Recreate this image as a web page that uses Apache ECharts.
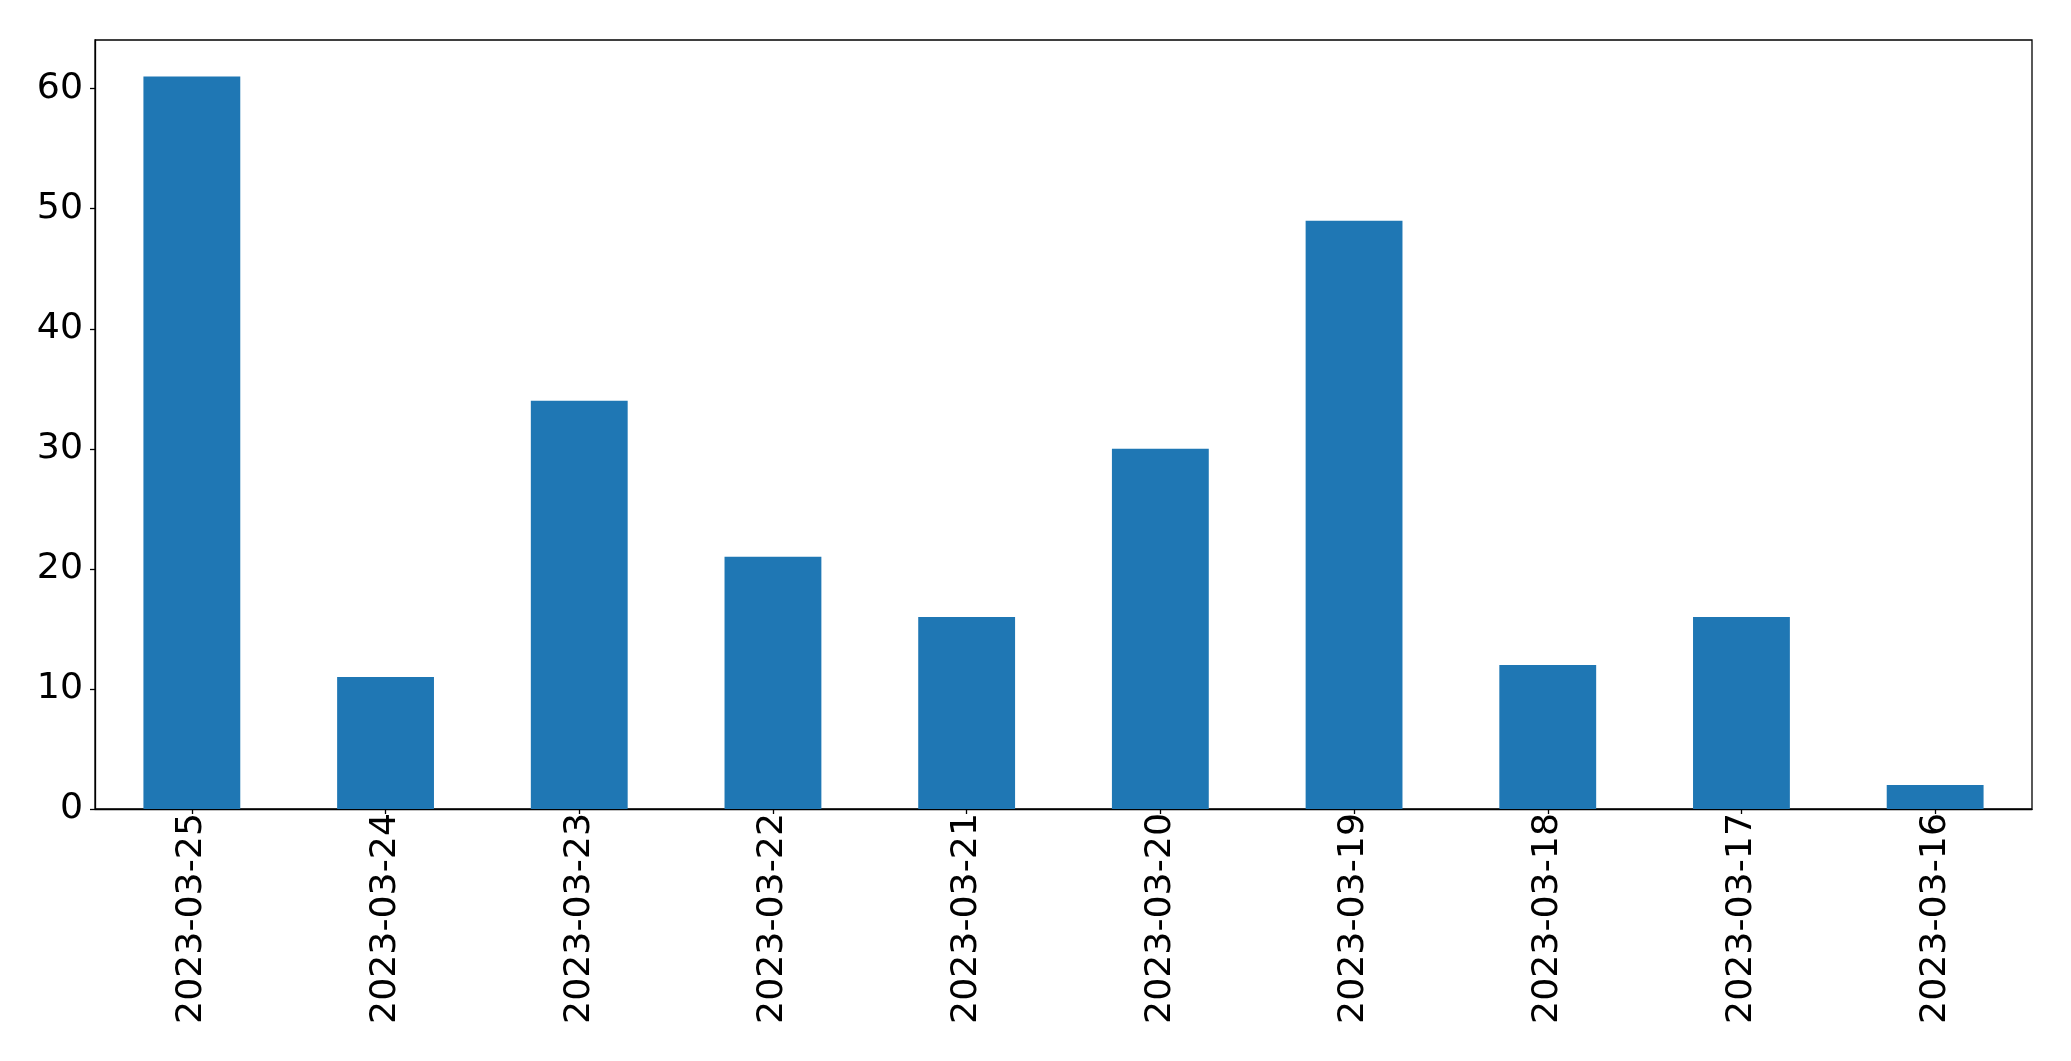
<!DOCTYPE html>
<html><head><meta charset="utf-8">
<script src="https://cdn.jsdelivr.net/npm/echarts@6/dist/echarts.min.js"></script>
<style>html,body{margin:0;padding:0;background:#fff}#c{width:2071px;height:1061px}</style>
</head><body><div id="c"></div>
<script>
const categories = ['2023-03-25','2023-03-24','2023-03-23','2023-03-22','2023-03-21','2023-03-20','2023-03-19','2023-03-18','2023-03-17','2023-03-16'];
const values = [61, 11, 34, 21, 16, 30, 49, 12, 16, 2];
const yMax = 64.05;
const chart = echarts.init(document.getElementById('c'), null, {renderer:'canvas'});
const font = 'DejaVu Sans';
chart.setOption({
  animation: false,
  grid: {left: 95, top: 40, width: 1937, height: 769, show: true, borderColor: '#000', borderWidth: 1.3, backgroundColor: 'transparent'},
  xAxis: {
    type: 'category', data: categories, boundaryGap: true,
    axisLine: {show: true, lineStyle: {color: '#000', width: 1.3}},
    axisTick: {show: true, alignWithLabel: true, length: 5, lineStyle: {color: '#000', width: 1.3}},
    axisLabel: {rotate: 90, margin: 4, color: '#000', fontSize: 36.3, fontFamily: font, interval: 0},
    splitLine: {show: false}
  },
  yAxis: {
    type: 'value', min: 0, max: yMax, interval: 10,
    axisLine: {show: true, lineStyle: {color: '#000', width: 1.3}},
    axisTick: {show: true, length: 5, lineStyle: {color: '#000', width: 1.3}},
    axisLabel: {margin: 12, color: '#000', fontSize: 36.3, fontFamily: font, showMaxLabel: false},
    splitLine: {show: false}
  },
  series: [{type: 'bar', data: values, barWidth: '50%', itemStyle: {color: '#1f77b4'}}]
});
</script></body></html>
